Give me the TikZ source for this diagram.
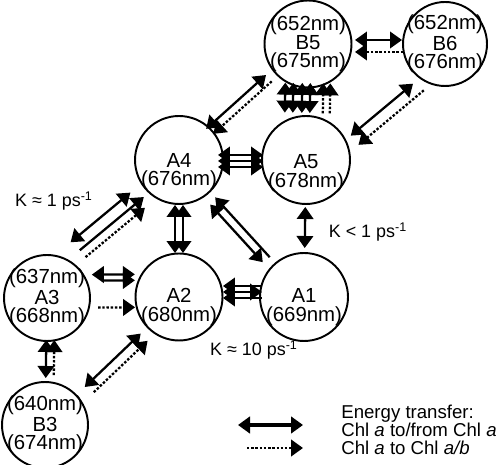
\documentclass[tikz,border=0pt]{standalone}
\usepackage{fontspec}
\setmainfont{Liberation Sans}
\usetikzlibrary{arrows.meta,calc}
\begin{document}
\begin{tikzpicture}[x=0.02cm, y=-0.02cm,
    >={Triangle[length=2.4mm, width=3.3mm]},
    site/.style={circle, draw, line width=1.1pt, minimum size=1.76cm, inner sep=0pt},
    nm/.style={align=center, font=\fontsize{11.6}{10.5}\selectfont},
    kval/.style={font=\fontsize{10.2}{12}\selectfont, inner sep=0pt},
    chla/.style={<->, line width=1.3pt},
    chlaone/.style={->, line width=1.3pt},
    chlab/.style={->, line width=1.3pt, dash pattern=on 1.4pt off 1pt}
]
    \useasboundingbox (0,0) rectangle (500,465);

    % Pigment sites
    \node[site, minimum size=1.74cm, label={[nm]center:{(652nm)\\B5\\(675nm)}}] (B5) at (308,44) {};
    \node[site, minimum size=1.68cm, label={[nm]center:{(652nm)\\B6\\(676nm)}}] (B6) at (445,44) {};
    \node[site, label={[nm, yshift=-0.23cm]center:{A4\\(676nm)}}] (A4) at (179,160) {};
    \node[site, label={[nm, yshift=-0.26cm]center:{A5\\(678nm)}}] (A5) at (306,160) {};
    \node[site, minimum size=1.72cm, label={[nm]center:{(637nm)\\A3\\(668nm)}}] (A3) at (47,298) {};
    \node[site, minimum size=1.74cm, label={[nm, yshift=-0.2cm]center:{A2\\(680nm)}}] (A2) at (179,297) {};
    \node[site, label={[nm, yshift=-0.2cm]center:{A1\\(669nm)}}] (A1) at (304,297) {};
    \node[site, minimum size=1.72cm, label={[nm]center:{(640nm)\\B3\\(674nm)}}] (B3) at (45,425) {};

    % B5 -- B6
    \draw[chla, shorten <=0.94cm, shorten >=0.86cm] ($(B5)!0.08cm!90:(B6)$) -- ($(B6)!0.08cm!-90:(B5)$);
    \draw[chlab, shorten <=0.84cm, shorten >=0.94cm] ($(B6)!0.16cm!90:(B5)$) -- ($(B5)!0.16cm!-90:(B6)$);

    % B5 -- A5
    \draw[chla, shorten <=0.78cm, shorten >=0.94cm] ($(B5)!-0.44cm!90:(A5)$) -- ($(A5)!-0.44cm!-90:(B5)$);
    \draw[chla, shorten <=0.78cm, shorten >=0.94cm] ($(B5)!-0.28cm!90:(A5)$) -- ($(A5)!-0.28cm!-90:(B5)$);
    \draw[chla, shorten <=0.78cm, shorten >=0.94cm] ($(B5)!-0.1cm!90:(A5)$) -- ($(A5)!-0.1cm!-90:(B5)$);
    \draw[chla, shorten <=0.78cm, shorten >=0.94cm] ($(B5)!0.06cm!90:(A5)$) -- ($(A5)!0.06cm!-90:(B5)$);
    \draw[chlab, shorten <=0.94cm, shorten >=0.78cm] ($(A5)!-0.32cm!90:(B5)$) -- ($(B5)!-0.32cm!-90:(A5)$);
    \draw[chlab, shorten <=0.94cm, shorten >=0.78cm] ($(A5)!-0.46cm!90:(B5)$) -- ($(B5)!-0.46cm!-90:(A5)$);

    % B5 -- A4 and B6 -- A5
    \draw[chla, shorten <=0.82cm, shorten >=1.04cm] ($(A4)!0.1cm!90:(B5)$) -- ($(B5)!0.1cm!-90:(A4)$);
    \draw[chlab, shorten <=1.04cm, shorten >=0.86cm] ($(B5)!0.07cm!90:(A4)$) -- ($(A4)!0.07cm!-90:(B5)$);
    \draw[chla, shorten <=1cm, shorten >=1cm] ($(A5)!-0.2cm!90:(B6)$) -- ($(B6)!-0.2cm!-90:(A5)$);
    \draw[chlab, shorten <=0.92cm, shorten >=1cm] ($(B6)!0.44cm!90:(A5)$) -- ($(A5)!0.44cm!-90:(B6)$);

    % A4 -- A5
    \draw[chla, shorten <=0.78cm, shorten >=0.86cm] ($(A4)!0.1cm!90:(A5)$) -- ($(A5)!0.1cm!-90:(A4)$);
    \draw[chla, shorten <=0.78cm, shorten >=0.86cm] ($(A4)!-0.02cm!90:(A5)$) -- ($(A5)!-0.02cm!-90:(A4)$);
    \draw[chla, shorten <=0.78cm, shorten >=0.86cm] ($(A4)!-0.14cm!90:(A5)$) -- ($(A5)!-0.14cm!-90:(A4)$);

    % A5 -- A1
    \draw[chla, shorten <=0.94cm, shorten >=0.98cm] (A5.center) -- (A1.center);

    % A4 -- A2 and A4 -- A1
    \draw[chla, shorten <=0.9cm, shorten >=0.88cm] ($(A4)!-0.08cm!90:(A2)$) -- ($(A2)!-0.08cm!-90:(A4)$);
    \draw[chla, shorten <=0.9cm, shorten >=0.88cm] ($(A4)!0.08cm!90:(A2)$) -- ($(A2)!0.08cm!-90:(A4)$);
    \draw[chla, shorten <=1.08cm, shorten >=1.07cm] ($(A4)!-0.14cm!90:(A1)$) -- ($(A1)!-0.14cm!-90:(A4)$);
    \draw[chlaone, shorten <=1.05cm, shorten >=1.04cm] ($(A1)!-0.03cm!90:(A4)$) -- ($(A4)!-0.03cm!-90:(A1)$);

    % A2 -- A1
    \draw[chla, shorten <=0.88cm, shorten >=0.84cm] ($(A2)!0.1cm!90:(A1)$) -- ($(A1)!0.1cm!-90:(A2)$);
    \draw[chlaone, shorten <=0.84cm, shorten >=0.88cm] ($(A1)!-0.22cm!90:(A2)$) -- ($(A2)!-0.22cm!-90:(A1)$);
    \draw[chlaone, shorten <=0.84cm, shorten >=0.88cm] ($(A1)!0.02cm!90:(A2)$) -- ($(A2)!0.02cm!-90:(A1)$);

    % A3 -- A4
    \draw[chla, shorten <=0.24cm, shorten >=0.28cm] ($(A3.58)!0.28cm!90:(A4.230)$) -- ($(A4.230)!0.28cm!-90:(A3.58)$);
    \draw[chlaone, shorten <=0.28cm, shorten >=0.13cm] ($(A3.58)!0.04cm!90:(A4.230)$) -- ($(A4.230)!0.04cm!-90:(A3.58)$);
    \draw[chlab, shorten <=0.28cm, shorten >=0.25cm] ($(A3.58)!-0.14cm!90:(A4.230)$) -- ($(A4.230)!-0.14cm!-90:(A3.58)$);

    % A3 -- A2
    \draw[chla, shorten <=0.9cm, shorten >=0.88cm] ($(A3)!0.46cm!90:(A2)$) -- ($(A2)!0.46cm!-90:(A3)$);
    \draw[chlaone, shorten <=1.1cm, shorten >=0.88cm] ($(A3)!0.34cm!90:(A2)$) -- ($(A2)!0.34cm!-90:(A3)$);
    \draw[chlab, shorten <=1.02cm, shorten >=0.88cm] ($(A3)!-0.2cm!90:(A2)$) -- ($(A2)!-0.2cm!-90:(A3)$);

    % B3 -- A3 and B3 -- A2
    \draw[chla, shorten <=0.94cm, shorten >=0.84cm] (B3.center) -- (A3.center);
    \draw[chlab, shorten <=1cm, shorten >=0.84cm] ($(B3)!-0.16cm!90:(A3)$) -- ($(A3)!-0.16cm!-90:(B3)$);
    \draw[chla, shorten <=1.1cm, shorten >=1.06cm] (B3.center) -- (A2.center);
    \draw[chlab, shorten <=1.16cm, shorten >=1.06cm] ($(B3)!-0.2cm!90:(A2)$) -- ($(A2)!-0.2cm!-90:(B3)$);

    % Rate constants
    \node[kval] (k1) at (54,201) {K ≈ 1 ps\textsuperscript{-1}};
    \node[kval] (k2) at (368,232) {K < 1 ps\textsuperscript{-1}};
    \node[kval] (k3) at (254,350) {K ≈ 10 ps\textsuperscript{-1}};

    % Legend
    \coordinate (ls) at (238,425);
    \coordinate (le) at (303,425);
    \coordinate (ds) at (247,448);
    \coordinate (de) at (303,448);
    \draw[chla, line width=1.9pt] (ls) -- (le);
    \draw[chlab, line width=1.6pt] (ds) -- (de);
    \node[font=\fontsize{10.6}{10.2}\selectfont, align=left, anchor=west, inner sep=0pt] (leg) at (341,430) {Energy transfer:\\Chl \textit{a} to/from Chl \textit{a}\\Chl \textit{a} to Chl \textit{a/b}};
\end{tikzpicture}
\end{document}
